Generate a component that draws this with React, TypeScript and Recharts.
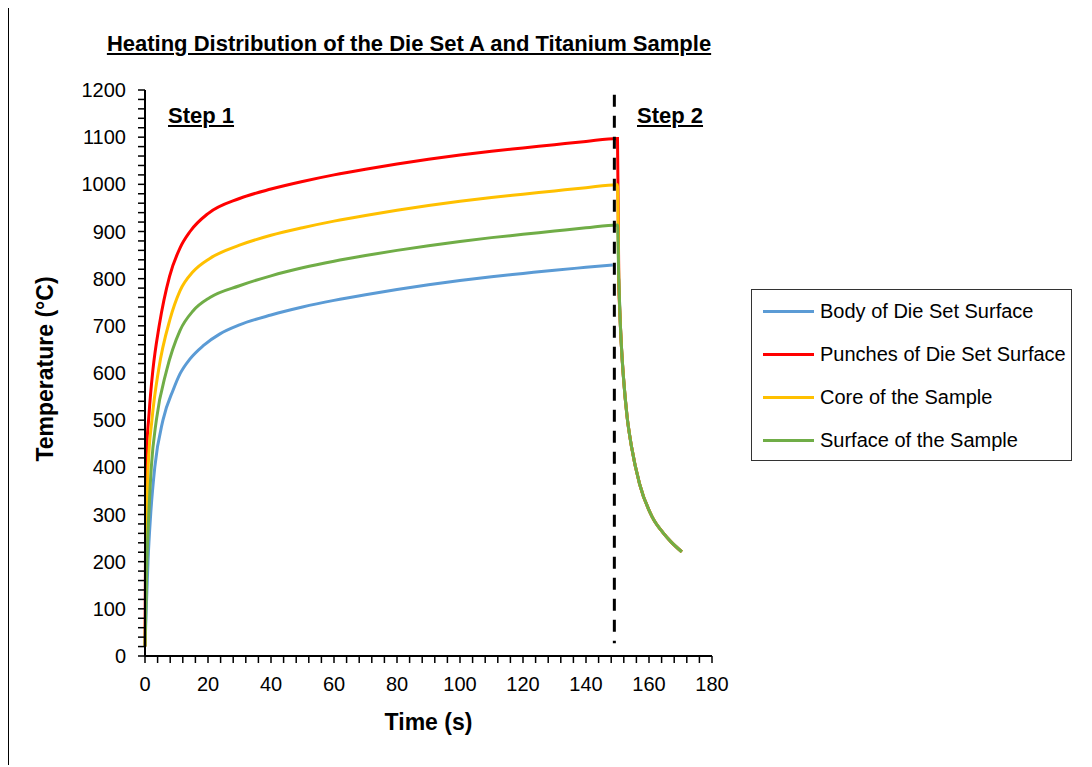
import { LineChart, Line, XAxis, YAxis, ReferenceLine, Legend } from 'recharts';

// Step 1 (heating, 0–150 s) – each series read at its own time points
const bodyTime = [0, 0.4, 0.95, 1.8, 3.1, 5.7, 9, 11.1, 14.3, 18.5, 23.8, 30, 40, 50, 60, 70, 80, 90, 100, 110, 120, 130, 140, 148.5];
const bodyTemp = [20, 100, 200, 300, 400, 500, 565, 598, 630, 658, 683, 702, 723, 740, 754, 766, 777, 787, 796, 804, 811, 818, 824, 829];

const punchesTime = [0, 0.3, 1.3, 2.5, 4.5, 7.8, 11.1, 14.3, 20, 30, 40, 50, 60, 70, 80, 90, 100, 110, 120, 130, 140, 150];
const punchesTemp = [20, 400, 515, 606, 700, 805, 865, 900, 938, 970, 990, 1006, 1020, 1032, 1043, 1053, 1062, 1070, 1077, 1084, 1091, 1097];

const coreTime = [0, 1, 2.2, 4.3, 7.9, 11.1, 15.3, 20.6, 30, 40, 50, 60, 70, 80, 90, 100, 110, 120, 130, 140, 150];
const coreTemp = [20, 400, 500, 606, 713, 774, 815, 843, 871, 892, 908, 922, 934, 945, 955, 964, 972, 979, 986, 993, 999];

const surfaceTime = [0, 0.6, 1.2, 2, 3.6, 6.8, 11.1, 15.3, 20.6, 30, 40, 50, 60, 70, 80, 90, 100, 110, 120, 130, 140, 150];
const surfaceTemp = [20, 200, 300, 400, 500, 604, 690, 732, 760, 785, 806, 823, 837, 849, 860, 870, 879, 887, 894, 901, 908, 914];

// Step 2 (cooling) – all four curves collapse onto one
const coolTime = [150.4, 150.8, 151.3, 151.9, 153, 154.5, 157, 161, 164.5, 167, 170.4];
const coolTemp = [800, 720, 650, 590, 510, 442, 365, 295, 261, 242, 221];

const seriesNames = ['Body of Die Set Surface', 'Punches of Die Set Surface', 'Core of the Sample', 'Surface of the Sample'];
const seriesColors = ['#5B9BD5', '#FF0000', '#FFC000', '#70AD47'];

const xMajor = [0, 20, 40, 60, 80, 100, 120, 140, 160, 180];
const yMajor = [0, 100, 200, 300, 400, 500, 600, 700, 800, 900, 1000, 1100, 1200];
const xTicks = Array.from({ length: 46 }, (_, i) => i * 4);
const yTicks = Array.from({ length: 61 }, (_, i) => i * 20);

const stepDivider = 149;

const toRows = (ts: number[], vs: number[]) => ts.map((t, i) => ({ t, v: vs[i] }));
const cooling = toRows(coolTime, coolTemp);

const series = [
  // body line stops short of the divider, then joins the cooling curve
  [...toRows(bodyTime, bodyTemp), { t: 149.5, v: null }, ...cooling],
  [...toRows(punchesTime, punchesTemp), ...cooling],
  [...toRows(coreTime, coreTemp), ...cooling],
  [...toRows(surfaceTime, surfaceTemp), ...cooling],
];

const FONT = '"Liberation Sans Narrow", "Arial Narrow", "Liberation Sans", Arial, sans-serif';

const stepStyle: React.CSSProperties = {
  position: 'absolute',
  top: 96,
  fontSize: 22,
  fontWeight: 'bold',
  textDecoration: 'underline',
  lineHeight: '26px',
  whiteSpace: 'nowrap',
};

function LegendBox({ payload }: any) {
  const items = [...(payload || [])].sort((a: any, b: any) => seriesNames.indexOf(a.value) - seriesNames.indexOf(b.value));
  return (
    <div style={{ border: '1px solid #333', width: 321, height: 172, boxSizing: 'border-box', padding: '0 0 0 11px', background: '#fff' }}>
      {items.map((p: any) => (
        <div key={p.value} style={{ display: 'flex', alignItems: 'center', height: 43 }}>
          <div style={{ width: 51, height: 3, background: p.color, marginRight: 6 }} />
          <span style={{ fontSize: 20, color: '#000', whiteSpace: 'nowrap' }}>{p.value}</span>
        </div>
      ))}
    </div>
  );
}

export default function App() {
  return (
    <div
      style={{
        position: 'relative',
        marginTop: -2,
        width: 1084,
        height: 759,
        boxSizing: 'border-box',
        borderLeft: '1px solid #000',
        borderTop: '1px solid #000',
        fontFamily: FONT,
        background: '#fff',
      }}
    >
      <div style={{ position: 'absolute', left: 0, top: 24, width: 800, textAlign: 'center', fontSize: 22, fontWeight: 'bold', textDecoration: 'underline', lineHeight: '26px' }}>
        Heating Distribution of the Die Set A and Titanium Sample
      </div>
      <div style={{ ...stepStyle, left: 159 }}>Step 1</div>
      <div style={{ ...stepStyle, left: 628 }}>Step 2</div>

      <LineChart
        width={1075}
        height={752}
        margin={{ top: 83, right: 372, bottom: 23, left: 76 }}
        style={{ fontFamily: FONT }}
      >
        <XAxis
          dataKey="t"
          type="number"
          domain={[0, 180]}
          ticks={xTicks}
          interval={0}
          height={80}
          tickSize={7}
          tickMargin={14}
          tickFormatter={(v: number) => (xMajor.includes(v) ? String(v) : '')}
          tick={{ fill: '#000', fontSize: 20, fontFamily: FONT }}
          axisLine={{ stroke: '#000', strokeWidth: 2 }}
          tickLine={{ stroke: '#000', strokeWidth: 1.5 }}
          allowDuplicatedCategory={false}
          label={{
            content: ({ viewBox }: any) => (
              <text x={viewBox.x + viewBox.width / 2} y={viewBox.y + 66} textAnchor="middle" dominantBaseline="central" fontSize={23} fontWeight="bold" fontFamily={FONT} fill="#000">
                Time (s)
              </text>
            ),
          }}
        />
        <XAxis xAxisId="top" orientation="top" type="number" domain={[0, 180]} height={0} tick={false} tickLine={false} axisLine={{ stroke: '#000', strokeWidth: 1.5 }} />
        <YAxis
          type="number"
          domain={[0, 1200]}
          ticks={yTicks}
          interval={0}
          width={60}
          tickSize={7}
          tickMargin={12}
          tickFormatter={(v: number) => (yMajor.includes(v) ? String(v) : '')}
          tick={{ fill: '#000', fontSize: 20, fontFamily: FONT }}
          axisLine={{ stroke: '#000', strokeWidth: 2 }}
          tickLine={{ stroke: '#000', strokeWidth: 1.5 }}
          label={{
            content: ({ viewBox }: any) => {
              const cx = viewBox.x - 40;
              const cy = viewBox.y + viewBox.height / 2 - 4;
              return (
                <text x={cx} y={cy} transform={`rotate(-90 ${cx} ${cy})`} textAnchor="middle" dominantBaseline="central" fontSize={23} fontWeight="bold" fontFamily={FONT} fill="#000">
                  Temperature (°C)
                </text>
              );
            },
          }}
        />
        <YAxis yAxisId="right" orientation="right" domain={[0, 1200]} width={0} tick={false} tickLine={false} axisLine={{ stroke: '#000', strokeWidth: 1.5 }} />

        {series.map((rows, i) => (
          <Line
            key={seriesNames[i]}
            data={rows}
            dataKey="v"
            name={seriesNames[i]}
            type="monotone"
            stroke={seriesColors[i]}
            strokeWidth={3}
            dot={false}
            activeDot={false}
            connectNulls={false}
            isAnimationActive={false}
          />
        ))}

        <ReferenceLine
          segment={[{ x: stepDivider, y: 1190 }, { x: stepDivider, y: 27 }]}
          stroke="#000"
          strokeWidth={3}
          strokeDasharray="12 9"
        />

        <Legend
          layout="horizontal"
          align="center"
          verticalAlign="middle"
          content={LegendBox}
          wrapperStyle={{ position: 'absolute', left: 742, top: 282, width: 321, height: 172 }}
        />
      </LineChart>
    </div>
  );
}
